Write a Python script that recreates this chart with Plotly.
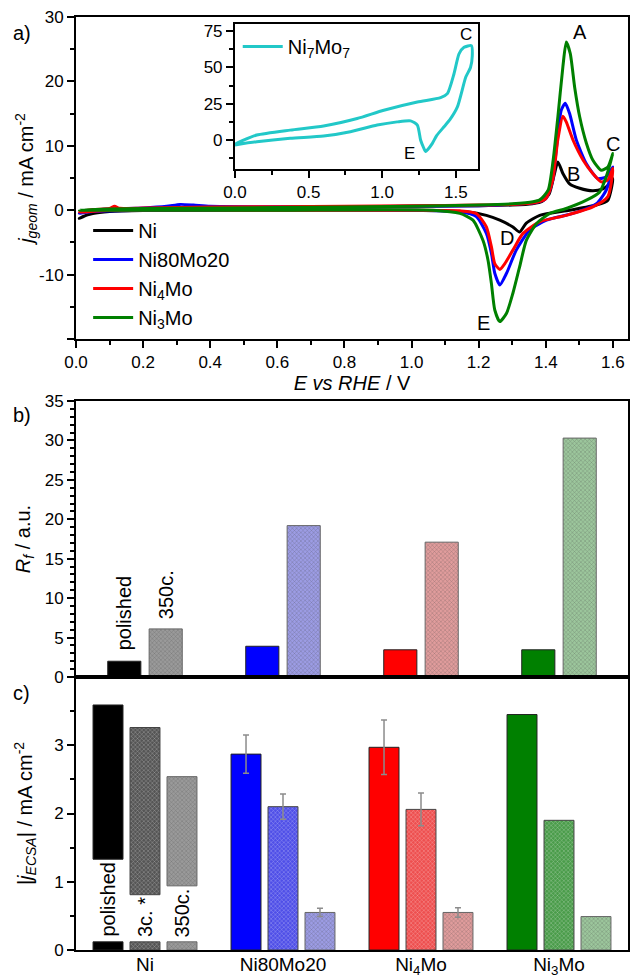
import plotly.graph_objects as go
import numpy as np

FONT = "Arial, 'Liberation Sans', sans-serif"

# ---------------- Panel a: CV data (E vs RHE / V, j / mA cm-2) ----------------
ni_E = [0.01, 0.03, 0.06, 0.10, 0.20, 0.30, 0.50, 0.80, 1.00, 1.20, 1.30, 1.36, 1.39, 1.41, 1.425, 1.436,
        1.451, 1.471, 1.501, 1.540, 1.570, 1.590, 1.600,
        1.585, 1.551, 1.471, 1.382, 1.342, 1.322, 1.302, 1.263, 1.223, 1.164, 1.00, 0.60, 0.20, 0.10, 0.05,
        0.02, 0.01]
ni_j = [-1.3, -0.8, -0.3, 0.0, 0.2, 0.3, 0.4, 0.5, 0.6, 0.7, 0.8, 1.0, 1.4, 2.5, 5.5, 7.5,
        5.7, 4.1, 3.4, 3.0, 3.3, 4.1, 4.9,
        1.55, 0.8, 0.0, -0.8, -2.0, -3.4, -2.6, -1.55, -0.8, -0.26, 0.0, 0.0, -0.05, -0.2, -0.5,
        -1.0, -1.3]

nimo20_E = [0.01, 0.05, 0.10, 0.20, 0.27, 0.31, 0.35, 0.40, 0.60, 0.80, 1.00, 1.20, 1.30, 1.37, 1.40, 1.42,
            1.431, 1.446, 1.458, 1.471, 1.491, 1.521, 1.555, 1.580, 1.600,
            1.580, 1.551, 1.481, 1.402, 1.352, 1.312, 1.283, 1.263, 1.248, 1.238, 1.223, 1.193, 1.144,
            1.00, 0.60, 0.20, 0.05, 0.01]
nimo20_j = [-0.5, 0.0, 0.2, 0.35, 0.6, 0.9, 0.8, 0.6, 0.55, 0.55, 0.6, 0.7, 0.9, 1.2, 1.8, 4.5,
            9.3, 15.5, 16.6, 15.0, 10.9, 7.2, 4.9, 5.2, 6.7,
            3.1, 1.0, -0.5, -1.55, -3.1, -6.2, -9.8, -11.6, -9.8, -6.7, -3.6, -1.0, -0.26,
            0.0, 0.05, 0.0, -0.2, -0.5]

ni4mo_E = [0.01, 0.05, 0.10, 0.115, 0.13, 0.20, 0.40, 0.80, 1.00, 1.20, 1.30, 1.37, 1.40, 1.42,
           1.436, 1.451, 1.461, 1.481, 1.511, 1.540, 1.565, 1.585, 1.600,
           1.585, 1.540, 1.461, 1.382, 1.332, 1.302, 1.278, 1.263, 1.248, 1.238, 1.223, 1.193, 1.144,
           1.00, 0.50, 0.10, 0.01]
ni4mo_j = [-0.3, 0.1, 0.25, 0.6, 0.3, 0.35, 0.5, 0.6, 0.7, 0.8, 0.9, 1.2, 1.8, 4.5,
           11.0, 14.6, 13.7, 10.9, 7.8, 5.7, 4.4, 4.7, 6.5,
           2.1, 0.5, -0.8, -1.8, -3.6, -6.2, -8.3, -9.2, -8.3, -5.7, -2.6, -0.5, -0.1,
           0.0, 0.0, 0.0, -0.3]

ni3mo_E = [0.01, 0.10, 0.30, 0.60, 1.00, 1.20, 1.30, 1.362, 1.382, 1.407, 1.422, 1.436, 1.451, 1.461,
           1.473, 1.486, 1.501, 1.521, 1.540, 1.565, 1.585, 1.600,
           1.580, 1.560, 1.521, 1.461, 1.412, 1.372, 1.342, 1.322, 1.302, 1.283, 1.263, 1.248, 1.238,
           1.228, 1.213, 1.183, 1.144, 1.064, 0.60, 0.20, 0.01]
ni3mo_j = [0.0, 0.2, 0.3, 0.4, 0.6, 0.8, 1.0, 1.3, 1.6, 3.1, 7.8, 14.5, 22.3, 26.1,
           24.3, 19.1, 14.5, 10.4, 7.8, 6.2, 6.7, 8.8,
           5.2, 2.8, 1.55, 0.26, -0.5, -2.1, -4.7, -8.8, -12.9, -16.0, -17.3, -15.5, -11.4,
           -7.8, -4.7, -1.55, -0.5, 0.0, 0.0, 0.0, 0.0]

# Inset: Ni7Mo7
ni7mo7_E = [0.0, 0.05, 0.148, 0.375, 0.602, 0.83, 1.011, 1.239, 1.397, 1.443, 1.488, 1.522, 1.556, 1.606,
            1.612, 1.60, 1.568, 1.511, 1.46, 1.42, 1.37, 1.341, 1.31, 1.295, 1.28, 1.261, 1.239, 1.193,
            1.102, 0.966, 0.784, 0.602, 0.375, 0.148, 0.0]
ni7mo7_j = [-3.0, -0.5, 3.4, 6.8, 9.6, 14.8, 20.5, 26.2, 29.2, 32.0, 45.7, 59.4, 63.9, 65.1,
            58.0, 50.0, 43.4, 22.8, 14.0, 9.1, 3.0, -2.3, -6.5, -8.0, -5.0, 0.0, 10.3, 13.2,
            12.5, 10.3, 5.7, 2.7, 1.2, -1.2, -3.4]

# ---------------- Panel b / c: bar data ----------------
groups = ["Ni", "Ni80Mo20", "Ni<sub>4</sub>Mo", "Ni<sub>3</sub>Mo"]
rf_polished = [2.0, 3.9, 3.45, 3.45]
rf_350c = [6.1, 19.2, 17.1, 30.3]

j_polished = [3.59, 2.87, 2.97, 3.45]
j_3c = [3.26, 2.10, 2.06, 1.90]
j_350c = [2.54, 0.55, 0.55, 0.49]
err_polished = [0.0, 0.28, 0.40, 0.0]
err_3c = [0.0, 0.185, 0.24, 0.0]
err_350c = [0.0, 0.06, 0.07, 0.0]
# label window cut into the Ni bars (lower / upper edge of the white gap)
ni_gap_low = [0.12, 0.12, 0.12]
ni_gap_high = [1.33, 0.81, 0.94]

col_solid = ["#000000", "#0000FF", "#FF0000", "#008000"]
col_3c = ["#555555", "#4f4fe8", "#ee4f4f", "#4a9c4a"]
col_350 = ["#9a9a9a", "#9c9ce4", "#e09c9c", "#9cc69c"]
fg_3c = ["#333333", "#2a2ac0", "#c83030", "#2f7a2f"]
fg_350 = ["#7a7a7a", "#7d7dcc", "#c47f7f", "#7fab7f"]

fig = go.Figure()

# ---- panel a curves
for E, j, name, c in [(ni_E, ni_j, "Ni", "#000000"),
                      (nimo20_E, nimo20_j, "Ni80Mo20", "#0000FF"),
                      (ni4mo_E, ni4mo_j, "Ni<sub>4</sub>Mo", "#FF0000"),
                      (ni3mo_E, ni3mo_j, "Ni<sub>3</sub>Mo", "#008000")]:
    fig.add_trace(go.Scatter(x=E, y=j, mode="lines", name=name,
                             line=dict(color=c, width=3, shape="spline", smoothing=0.6),
                             xaxis="x", yaxis="y", legend="legend"))

fig.add_trace(go.Scatter(x=ni7mo7_E, y=ni7mo7_j, mode="lines", name="Ni<sub>7</sub>Mo<sub>7</sub>",
                         line=dict(color="#22C8C8", width=3, shape="spline", smoothing=0.6),
                         xaxis="x4", yaxis="y4", legend="legend2"))

# ---- panel b bars
gx = np.arange(len(groups))
fig.add_trace(go.Bar(x=gx - 0.15, y=rf_polished, width=0.24, xaxis="x2", yaxis="y2", showlegend=False,
                     marker=dict(color=col_solid, line=dict(color="#222222", width=1))))
fig.add_trace(go.Bar(x=gx + 0.15, y=rf_350c, width=0.24, xaxis="x2", yaxis="y2", showlegend=False,
                     marker=dict(color=col_350, line=dict(color="#666666", width=1),
                                 pattern=dict(shape="x", size=3, solidity=0.25, fgcolor=fg_350,
                                              fillmode="overlay"))))

# ---- panel c bars
offs = [-0.268, 0.0, 0.268]
series = [(j_polished, err_polished, col_solid, None, "#222222"),
          (j_3c, err_3c, col_3c, fg_3c, "#444444"),
          (j_350c, err_350c, col_350, fg_350, "#666666")]
for k, (vals, errs, cols, fgs, lc) in enumerate(series):
    base = [ni_gap_high[k]] + [0.0] * (len(groups) - 1)
    heights = [v - b for v, b in zip(vals, base)]
    mk = dict(color=cols, line=dict(color=lc, width=1))
    if fgs is not None:
        mk["pattern"] = dict(shape="x", size=3, solidity=0.25, fgcolor=fgs, fillmode="overlay")
    fig.add_trace(go.Bar(x=gx + offs[k], y=heights, base=base, width=0.217, xaxis="x3", yaxis="y3",
                         showlegend=False, marker=mk))
    mk2 = dict(color=[cols[0]], line=dict(color=lc, width=1))
    if fgs is not None:
        mk2["pattern"] = dict(shape="x", size=3, solidity=0.25, fgcolor=[fgs[0]], fillmode="overlay")
    fig.add_trace(go.Bar(x=[gx[0] + offs[k]], y=[ni_gap_low[k]], width=0.217, xaxis="x3", yaxis="y3",
                         showlegend=False, marker=mk2))
    sel = [i for i in range(len(groups)) if errs[i] > 0]
    fig.add_trace(go.Scatter(x=[gx[i] + offs[k] for i in sel], y=[vals[i] for i in sel], mode="markers",
                             marker=dict(size=1, opacity=0), xaxis="x3", yaxis="y3", showlegend=False,
                             error_y=dict(type="data", array=[errs[i] for i in sel], color="#8c8c8c",
                                          thickness=1.5, width=3)))

# ---------------- axes ----------------
dA = [0.6549, 1.0]
dB = [0.2926, 0.5884]
dC = [0.0, 0.2926]
tickf = dict(family=FONT, size=17, color="#000")
titf = dict(family=FONT, size=20, color="#000")
common = dict(showline=True, linecolor="#000", linewidth=2, mirror=True, ticks="outside",
              ticklen=7, tickwidth=2, tickcolor="#000", showgrid=False, zeroline=False, tickfont=tickf)
minor = lambda d: dict(dtick=d, tick0=0, ticklen=4, tickwidth=2, ticks="outside", tickcolor="#000")

fig.update_layout(
    xaxis=dict(common, domain=[0, 1], anchor="y", range=[0, 1.645],
               tickvals=[0, 0.2, 0.4, 0.6, 0.8, 1.0, 1.2, 1.4, 1.6],
               ticktext=["0.0", "0.2", "0.4", "0.6", "0.8", "1.0", "1.2", "1.4", "1.6"],
               minor=minor(0.1),
               title=dict(text="<i>E vs RHE</i> / V", font=titf, standoff=4)),
    yaxis=dict(common, domain=dA, anchor="x", range=[-20, 30], tickvals=[-20, -10, 0, 10, 20, 30],
               ticktext=["", "-10", "0", "10", "20", "30"], minor=minor(5),
               title=dict(text="<i>j</i><sub><i>geom</i></sub> / mA cm<sup>-2</sup>", font=titf, standoff=0)),
    xaxis2=dict(showline=True, linecolor="#000", linewidth=2, mirror=True, ticks="", showticklabels=False,
                showgrid=False, zeroline=False, domain=[0, 1], anchor="y2", range=[-0.5, 3.5]),
    yaxis2=dict(common, domain=dB, anchor="x2", range=[0, 35], dtick=5, tick0=0, minor=minor(1),
                title=dict(text="<i>R</i><sub><i>f</i></sub> / a.u.", font=titf, standoff=9)),
    xaxis3=dict(showline=True, linecolor="#000", linewidth=2, mirror=True, ticks="", showgrid=False,
                zeroline=False, domain=[0, 1], anchor="y3", range=[-0.5, 3.5], tickvals=list(gx),
                ticktext=groups, ticklabelstandoff=-4, tickfont=dict(family=FONT, size=19, color="#000")),
    yaxis3=dict(common, domain=dC, anchor="x3", range=[0, 4], tickvals=[0, 1, 2, 3, 4],
                ticktext=["0", "1", "2", "3", ""], minor=minor(0.5),
                title=dict(text="|<i>j</i><sub><i>ECSA</i></sub>| / mA cm<sup>-2</sup>", font=titf, standoff=16)),
    xaxis4=dict(common, domain=[0.288, 0.728], anchor="y4", range=[0, 1.65], tickvals=[0, 0.5, 1.0, 1.5],
                ticktext=["0.0", "0.5", "1.0", "1.5"], minor=minor(0.25)),
    yaxis4=dict(common, domain=[0.8371, 0.9925], anchor="x4", range=[-20, 80], tickvals=[0, 25, 50, 75],
                minor=minor(12.5)),
)

fig.update_layout(
    width=630, height=980,
    margin=dict(l=76, r=2, t=17, b=30, autoexpand=False),
    paper_bgcolor="white", plot_bgcolor="rgba(0,0,0,0)",
    font=dict(family=FONT, size=17, color="#000"),
    barmode="overlay",
    legend=dict(x=0.022, y=0.7921, xanchor="left", yanchor="top", font=dict(family=FONT, size=20),
                bgcolor="rgba(0,0,0,0)", tracegroupgap=0, itemwidth=40),
    legend2=dict(x=0.293, y=0.9893, xanchor="left", yanchor="top", font=dict(family=FONT, size=20),
                 bgcolor="rgba(0,0,0,0)", itemwidth=40),
)

ann = []
def A(text, x, y, xref, yref, size=20, angle=0, xa="center", ya="middle"):
    ann.append(dict(text=text, x=x, y=y, xref=xref, yref=yref, showarrow=False, textangle=angle,
                    xanchor=xa, yanchor=ya, font=dict(family=FONT, size=size, color="#000")))

# panel labels
A("a)", -0.098, 0.9829, "paper", "paper")
A("b)", -0.098, 0.5734, "paper", "paper")
A("c)", -0.098, 0.2755, "paper", "paper")
# peak labels panel a
A("A", 1.501, 27.6, "x", "y")
A("B", 1.483, 5.6, "x", "y")
A("C", 1.600, 10.3, "x", "y")
A("D", 1.283, -4.25, "x", "y")
A("E", 1.215, -17.5, "x", "y")
# inset labels
A("C", 1.568, 73.0, "x4", "y4", size=17)
A("E", 1.188, -9.6, "x4", "y4", size=17)
# panel b labels
A("polished", gx[0] - 0.15, rf_polished[0] + 1.1, "x2", "y2", angle=-90, ya="bottom")
A("350c.", gx[0] + 0.15, rf_350c[0] + 1.0, "x2", "y2", angle=-90, ya="bottom")
# panel c labels inside the Ni bars
for k, t in enumerate(["polished", "3c. *", "350c."]):
    A(t, gx[0] + offs[k], ni_gap_low[k] + 0.04, "x3", "y3", angle=-90, ya="bottom")

fig.update_layout(annotations=ann)
fig.write_html("out.html")
